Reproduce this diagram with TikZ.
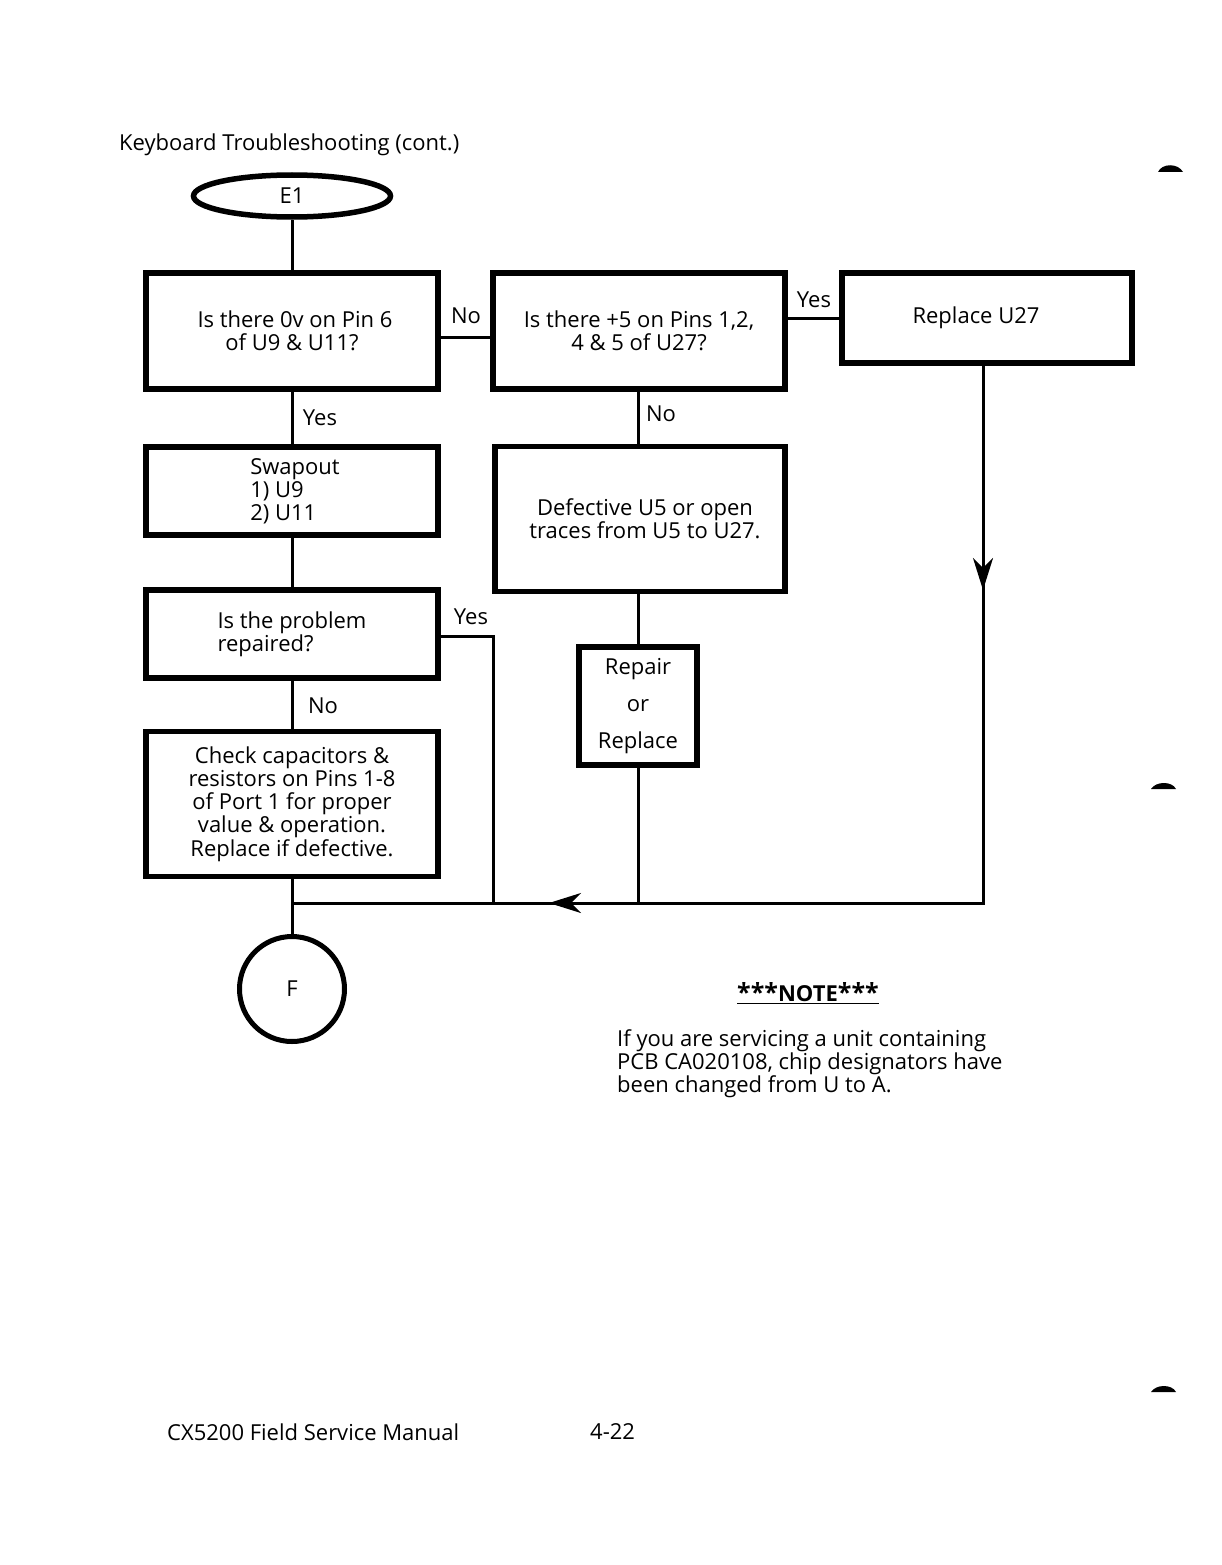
\documentclass[tikz,border=0pt]{standalone}
\usepackage{fontspec}
\setmainfont{Open Sans}
\usetikzlibrary{arrows.meta,decorations.markings,shapes.geometric}
\begin{document}
\begin{tikzpicture}[x=1pt,y=-1pt,
  every node/.style={font=\fontsize{22}{23.2}\selectfont},
  box/.style={draw,line width=5.5pt,rectangle,inner sep=0pt,align=center},
  conn/.style={line width=3pt},
  lbl/.style={inner sep=0pt},
  txt/.style={inner sep=0pt,anchor=west},
  tip/.style={-{Stealth[length=32pt,width=20pt,inset=10pt]}}
]
\useasboundingbox (0,0) rectangle (1221,1565);

% title
\node[txt] (title) at (119,145) {Keyboard Troubleshooting (cont.)};

% start ellipse
\node[draw,ellipse,line width=5.5pt,minimum width=197pt,minimum height=42pt,inner sep=0pt] (e1) at (292,196) {E1};

% left column
\node[box,minimum width=292pt,minimum height=116pt] (q1) at (292,331) {\hspace*{6pt}Is there 0v on Pin 6\\of U9 \& U11?};
\node[box,minimum width=292pt,minimum height=88pt,align=left] (swap) at (292,491) {\hspace*{6pt}Swapout\\\hspace*{6pt}1) U9\\\hspace*{6pt}2) U11};
\node[box,minimum width=292pt,minimum height=88pt,align=left] (q3) at (292,634) {Is the problem\\repaired?};
\node[box,minimum width=292pt,minimum height=145pt] (chk) at (292,804) {Check capacitors \&\\resistors on Pins 1-8\\of Port 1 for proper\\value \& operation.\\Replace if defective.};
\node[draw,circle,line width=5pt,minimum size=105pt,inner sep=0pt] (f) at (292,989) {F};

% middle column
\node[box,minimum width=292pt,minimum height=116pt] (q2) at (639,331) {Is there +5 on Pins 1,2,\\4 \& 5 of U27?};
\node[box,minimum width=290pt,minimum height=145pt] (def) at (640,519) {\hspace*{10pt}Defective U5 or open\\\hspace*{10pt}traces from U5 to U27.};
\node[box,minimum width=118pt,minimum height=118pt] (rep) at (638,706) {Repair\\[14pt]or\\[14pt]Replace};

% right column
\node[box,minimum width=290pt,minimum height=90pt] (ru) at (987,318) {Replace U27\hspace*{22pt}};

% junction coordinates
\coordinate (jl) at (292,903);
\coordinate (jy) at (493,903);
\coordinate (jm) at (638,903);
\coordinate (jr) at (983,903);
\coordinate (yc) at (493,636);

% connectors
\draw[conn] (e1.south) -- (q1.north);
\draw[conn] (q1.south) -- (swap.north);
\draw[conn] (swap.south) -- (q3.north);
\draw[conn] (q3.south) -- (chk.north);
\draw[conn] (chk.south) -- (jl) -- (f.north);
\draw[conn] (q1.east |- 0,337) -- (q2.west |- 0,337);
\draw[conn] (q2.east |- ru.west) -- (ru.west);
\draw[conn] (q2.south -| rep.north) -- (def.north -| rep.north);
\draw[conn] (def.south -| rep.north) -- (rep.north);
\draw[conn] (rep.south) -- (jm);
\draw[conn] (q3.east |- yc) -- (yc) -- (jy);
\draw[conn] (ru.south -| jr) -- (jr) -- (jl);
\draw[conn,tip] (ru.south -| jr) -- (983,590);
\draw[conn,tip] (jr) -- (549,903);

% labels
\node[lbl] (l1) at (466,316) {No};
\node[lbl] (l2) at (814,300) {Yes};
\node[lbl] (l3) at (320,418) {Yes};
\node[lbl] (l4) at (661,414) {No};
\node[lbl] (l5) at (471,617) {Yes};
\node[lbl] (l6) at (323,706) {No};

% note
\node[lbl] (note) at (808,993) {\bfseries\underline{{\fontsize{25}{25}\selectfont ***}NOTE{\fontsize{25}{25}\selectfont ***}}};
\node[txt,align=left] (notebody) at (617,1064) {If you are servicing a unit containing\\PCB CA020108, chip designators have\\been changed from U to A.};

% footer
\node[txt] (foot) at (167,1432) {CX5200 Field Service Manual};
\node[txt] (page) at (590,1432) {4-22};

% scan marks at right edge
\fill (1158,172) .. controls (1162,163) and (1178,163) .. (1183,172) -- cycle;
\fill (1151,789) .. controls (1156,781) and (1172,781) .. (1176,789) -- cycle;
\fill (1151,1392) .. controls (1156,1384) and (1172,1384) .. (1176,1392) -- cycle;
\end{tikzpicture}
\end{document}
